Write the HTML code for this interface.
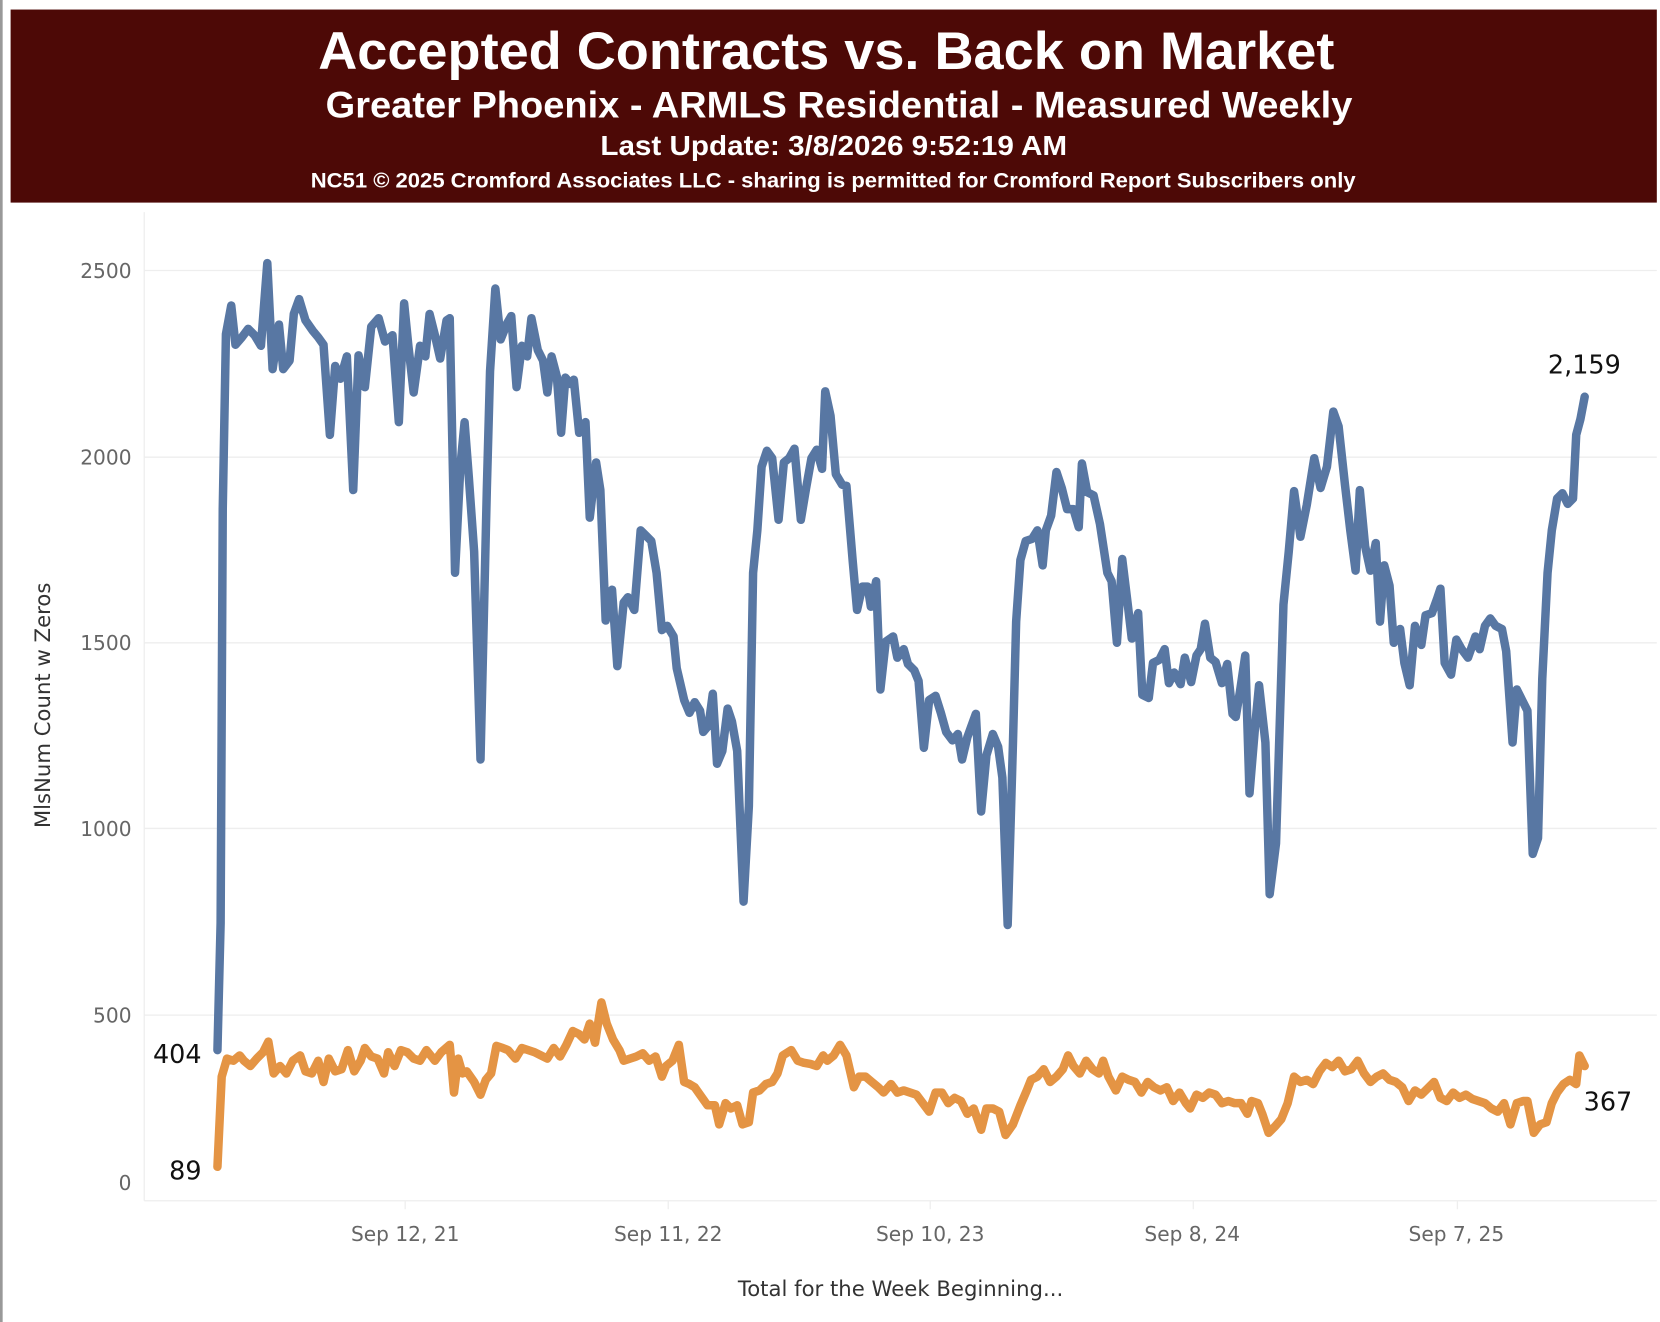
<!DOCTYPE html>
<html><head><meta charset="utf-8"><style>
html,body{margin:0;padding:0;background:#fff;}
svg{display:block;}
</style></head><body>
<svg width="1660" height="1322" viewBox="0 0 1565 1246.3" preserveAspectRatio="none" xmlns="http://www.w3.org/2000/svg">
<rect x="0" y="0" width="1565" height="1247" fill="#fff"/>
<rect x="0" y="0" width="2.5" height="1247" fill="#999"/>
<rect x="10" y="9" width="1552" height="182" fill="#4d0906"/>
<g font-family="Liberation Sans, sans-serif" font-weight="bold" fill="#fff">
<text x="300" y="65" font-size="50" textLength="958" lengthAdjust="spacingAndGlyphs">Accepted Contracts vs. Back on Market</text>
<text x="307" y="111" font-size="35" textLength="968" lengthAdjust="spacingAndGlyphs">Greater Phoenix - ARMLS Residential - Measured Weekly</text>
<text x="566" y="146" font-size="26" textLength="440" lengthAdjust="spacingAndGlyphs">Last Update: 3/8/2026 9:52:19 AM</text>
<text x="293" y="177" font-size="20" textLength="985" lengthAdjust="spacingAndGlyphs">NC51 © 2025 Cromford Associates LLC - sharing is permitted for Cromford Report Subscribers only</text>
</g>
<g stroke="#eeeeee" stroke-width="1.2">
<line x1="136" y1="255" x2="1562" y2="255"/>
<line x1="136" y1="431" x2="1562" y2="431"/>
<line x1="136" y1="606" x2="1562" y2="606"/>
<line x1="136" y1="781" x2="1562" y2="781"/>
<line x1="136" y1="957" x2="1562" y2="957"/>
<line x1="136" y1="1132" x2="1562" y2="1132"/>
<line x1="136" y1="200" x2="136" y2="1132"/>
<line x1="382" y1="1132" x2="382" y2="1140"/><line x1="630" y1="1132" x2="630" y2="1140"/><line x1="877" y1="1132" x2="877" y2="1140"/><line x1="1125" y1="1132" x2="1125" y2="1140"/><line x1="1374" y1="1132" x2="1374" y2="1140"/>
</g>
<g font-family="DejaVu Sans, sans-serif" font-size="19" fill="#666" text-anchor="end">
<text x="124" y="262">2500</text><text x="124" y="438">2000</text><text x="124" y="613">1500</text><text x="124" y="788">1000</text><text x="124" y="964">500</text><text x="124" y="1122">0</text>
</g>
<g font-family="DejaVu Sans, sans-serif" font-size="19" fill="#666" text-anchor="middle">
<text x="382" y="1170">Sep 12, 21</text><text x="630" y="1170">Sep 11, 22</text><text x="877" y="1170">Sep 10, 23</text><text x="1124" y="1170">Sep 8, 24</text><text x="1373" y="1170">Sep 7, 25</text>
</g>
<text x="849" y="1222" font-family="DejaVu Sans, sans-serif" font-size="20" fill="#333" text-anchor="middle">Total for the Week Beginning...</text>
<text transform="translate(47,665) rotate(-90)" font-family="DejaVu Sans, sans-serif" font-size="20" fill="#333" text-anchor="middle">MlsNum Count w Zeros</text>
<polyline fill="none" stroke="#5877a3" stroke-width="8" stroke-linejoin="round" stroke-linecap="round" points="205,990 208,870 210,480 213,315 218,288 222,325 228,318 234,310 240,316 246,326 252,248 257,348 263,306 267,348 273,340 277,296 282,282 288,302 295,312 300,318 305,325 311,410 316,345 321,357 327,336 333,462 338,335 344,365 350,308 357,300 363,322 370,316 376,398 381,286 385,326 390,370 396,326 401,336 405,296 410,316 415,338 421,302 424,300 429,540 434,440 438,398 442,450 447,520 453,716 459,460 462,350 467,272 472,320 478,305 482,298 487,365 492,326 497,336 501,300 507,330 512,340 516,370 520,336 525,355 529,408 533,356 538,362 541,358 546,408 552,398 556,488 562,436 566,462 571,585 577,556 582,628 588,568 592,563 598,575 604,500 609,505 614,510 619,540 624,594 629,590 635,600 638,630 645,660 650,672 655,662 660,670 663,690 668,684 672,654 676,720 681,708 686,668 690,680 695,708 701,850 706,760 710,540 714,500 718,440 723,425 728,432 734,490 739,436 744,432 749,423 755,490 760,460 765,432 770,424 775,442 778,369 783,392 788,447 794,457 798,458 804,530 808,575 813,553 818,553 821,572 826,548 830,650 835,605 842,600 846,620 852,612 856,626 862,632 866,642 871,705 876,660 882,656 887,672 892,690 898,698 903,692 907,716 912,695 920,673 925,765 930,712 936,692 941,704 945,733 950,872 955,700 958,586 962,528 967,510 973,508 978,500 983,533 986,500 991,486 996,445 1001,460 1006,480 1012,480 1017,497 1020,437 1025,464 1031,467 1037,494 1044,540 1048,548 1053,606 1058,527 1063,568 1067,602 1073,578 1077,655 1083,658 1087,625 1093,622 1098,612 1102,644 1107,634 1113,645 1117,620 1123,643 1128,618 1132,612 1136,588 1141,620 1146,624 1152,644 1157,626 1162,673 1165,676 1169,652 1174,618 1178,748 1183,688 1187,646 1193,700 1197,843 1203,795 1210,570 1215,520 1220,463 1226,506 1232,476 1239,432 1245,460 1251,440 1257,388 1262,402 1268,457 1273,500 1278,538 1282,462 1287,515 1292,538 1297,512 1301,586 1305,533 1310,552 1314,606 1320,593 1324,625 1329,646 1334,590 1340,608 1344,580 1350,578 1355,564 1358,555 1362,625 1368,636 1373,603 1378,612 1384,620 1391,600 1395,612 1400,590 1405,583 1410,590 1416,593 1420,614 1426,700 1430,650 1435,660 1440,670 1445,805 1450,790 1454,640 1459,540 1463,500 1468,470 1473,465 1478,475 1483,470 1486,410 1490,395 1494,374"/>
<polyline fill="none" stroke="#e49444" stroke-width="8" stroke-linejoin="round" stroke-linecap="round" points="205,1100 209,1015 214,998 220,1000 226,995 230,1000 236,1005 242,998 248,992 253,982 258,1012 264,1005 270,1012 276,1000 283,995 288,1010 294,1012 300,1000 305,1020 310,998 316,1010 322,1008 328,990 334,1010 340,1000 344,988 350,996 356,998 362,1012 366,992 372,1005 378,990 384,992 390,998 396,1000 402,990 410,1000 416,992 424,985 428,1030 432,998 436,1012 440,1010 447,1020 453,1032 458,1018 463,1012 468,986 474,988 479,990 486,998 492,988 498,990 504,992 510,995 516,998 522,988 528,996 534,985 540,972 546,975 551,980 556,965 561,983 567,945 572,965 578,980 584,990 588,1000 594,998 600,996 606,993 612,1000 618,996 624,1015 628,1005 634,1000 640,985 645,1020 650,1022 655,1025 662,1035 667,1042 674,1042 678,1060 684,1040 689,1045 695,1042 700,1060 706,1058 710,1030 716,1028 722,1022 728,1020 733,1012 738,995 746,990 752,1000 758,1002 764,1003 770,1005 776,995 780,1000 786,995 792,985 798,995 805,1025 810,1015 816,1015 822,1020 828,1025 833,1030 840,1022 846,1030 852,1028 858,1030 864,1032 870,1040 876,1048 882,1030 888,1030 894,1040 900,1035 906,1038 912,1050 918,1045 925,1065 930,1045 936,1045 942,1048 948,1070 955,1060 962,1042 968,1028 972,1018 978,1015 984,1008 990,1020 996,1015 1002,1008 1007,995 1012,1005 1018,1012 1024,1000 1030,1008 1036,1012 1040,1000 1045,1015 1052,1028 1058,1015 1064,1018 1070,1020 1076,1030 1082,1020 1088,1025 1094,1028 1100,1025 1106,1038 1112,1030 1118,1040 1122,1045 1128,1032 1134,1035 1140,1030 1146,1032 1152,1040 1158,1038 1164,1040 1170,1040 1176,1050 1180,1038 1186,1040 1190,1050 1196,1068 1202,1062 1208,1055 1214,1040 1220,1015 1226,1020 1232,1018 1238,1022 1244,1010 1250,1002 1256,1006 1262,1000 1268,1010 1274,1008 1280,1000 1286,1012 1292,1020 1298,1015 1304,1012 1310,1018 1316,1020 1322,1025 1328,1038 1334,1028 1340,1032 1346,1026 1352,1020 1358,1035 1364,1038 1370,1030 1376,1035 1382,1032 1388,1036 1394,1038 1400,1040 1406,1045 1412,1048 1418,1040 1424,1060 1430,1040 1436,1038 1440,1038 1446,1068 1452,1060 1458,1058 1463,1040 1468,1030 1474,1022 1480,1018 1486,1022 1489,995 1494,1005"/>
<g font-family="DejaVu Sans, sans-serif" font-size="24" fill="#111">
<text x="1528" y="352" text-anchor="end">2,159</text>
<text x="190" y="1002" text-anchor="end">404</text>
<text x="190" y="1112" text-anchor="end">89</text>
<text x="1493" y="1047">367</text>
</g>
</svg>
</body></html>
